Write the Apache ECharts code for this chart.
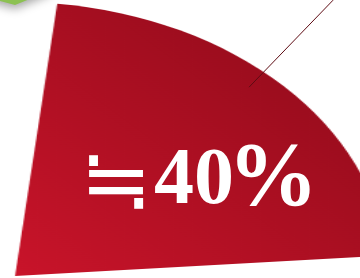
<!DOCTYPE html>
<html>
<head>
<meta charset="utf-8">
<script src="https://cdn.jsdelivr.net/npm/echarts@6/dist/echarts.min.js"></script>
<style>
html, body { margin: 0; padding: 0; background: #fff; }
#wrap { position: relative; width: 360px; height: 278px; overflow: hidden; }
/* the slice is drawn in perspective: stretch the pie sideways */
#slice { position: absolute; left: 0; top: 0; width: 300px; height: 278px; transform: scaleX(1.36); transform-origin: 15px 0; }
#labels { position: absolute; left: 0; top: 0; width: 360px; height: 278px; }
</style>
</head>
<body>
<div id="wrap"><div id="slice"></div><div id="labels"></div></div>
<script>
var sliceNames = ['share'];
var sliceValues = [40];
var restNames = ['rest'];
var restValues = [60];
var labelPrefix = '≒';

function toData(names, values) {
    return names.map(function (n, i) { return { name: n, value: values[i] }; });
}

var sliceChart = echarts.init(document.getElementById('slice'));
sliceChart.setOption({
    animation: false,
    series: [{
        type: 'pie',
        center: [15, 276],
        radius: 274,
        startAngle: 83.5,
        endAngle: 4.3,
        silent: true,
        label: { show: false },
        labelLine: { show: false },
        itemStyle: {
            color: new echarts.graphic.LinearGradient(0, 1, 1, 0, [
                { offset: 0, color: '#c9142a' },
                { offset: 1, color: '#8a0a19' }
            ])
        },
        data: toData(sliceNames, sliceValues)
    }]
});

var labelChart = echarts.init(document.getElementById('labels'));
labelChart.setOption({
    animation: false,
    series: [
        {
            // neighbouring green slice, only its tip shows
            type: 'pie',
            center: [15, 5],
            radius: 40,
            startAngle: 165,
            endAngle: 22,
            silent: true,
            label: { show: false },
            labelLine: { show: false },
            itemStyle: {
                color: '#8cc152',
                shadowBlur: 10,
                shadowColor: 'rgba(0,0,0,0.35)',
                shadowOffsetY: 4
            },
            data: toData(restNames, restValues)
        },
        {
            // leader line
            type: 'pie',
            center: [58, 285],
            radius: 275,
            startAngle: 90,
            endAngle: 2,
            silent: true,
            avoidLabelOverlap: false,
            itemStyle: { color: 'rgba(0,0,0,0)' },
            label: { show: true, position: 'outside', formatter: ' ' },
            labelLine: {
                show: true,
                length: 121,
                length2: 0,
                lineStyle: { color: '#5e0c14', width: 1 }
            },
            data: toData(sliceNames, sliceValues)
        },
        {
            // value text
            type: 'pie',
            center: [58, 285],
            radius: 275,
            startAngle: 90,
            endAngle: 2,
            silent: true,
            itemStyle: { color: 'rgba(0,0,0,0)' },
            label: {
                show: true,
                position: 'inside',
                formatter: function (p) { return '{eq|' + labelPrefix + '}{num|' + p.value + '}{pct|%}'; },
                color: '#fff',
                rich: {
                    eq: { color: '#fff', fontSize: 86, fontFamily: "'DejaVu Sans'", padding: [10, 2, 0, 0] },
                    num: { color: '#fff', fontSize: 80, fontWeight: 'bold', fontFamily: "'Liberation Serif', serif" },
                    pct: { color: '#fff', fontSize: 90, fontWeight: 'bold', fontFamily: "'Liberation Serif', serif", padding: [0, 0, 0, -6] }
                }
            },
            labelLayout: { x: 199, y: 182 },
            data: toData(sliceNames, sliceValues)
        }
    ]
});
</script>
</body>
</html>
